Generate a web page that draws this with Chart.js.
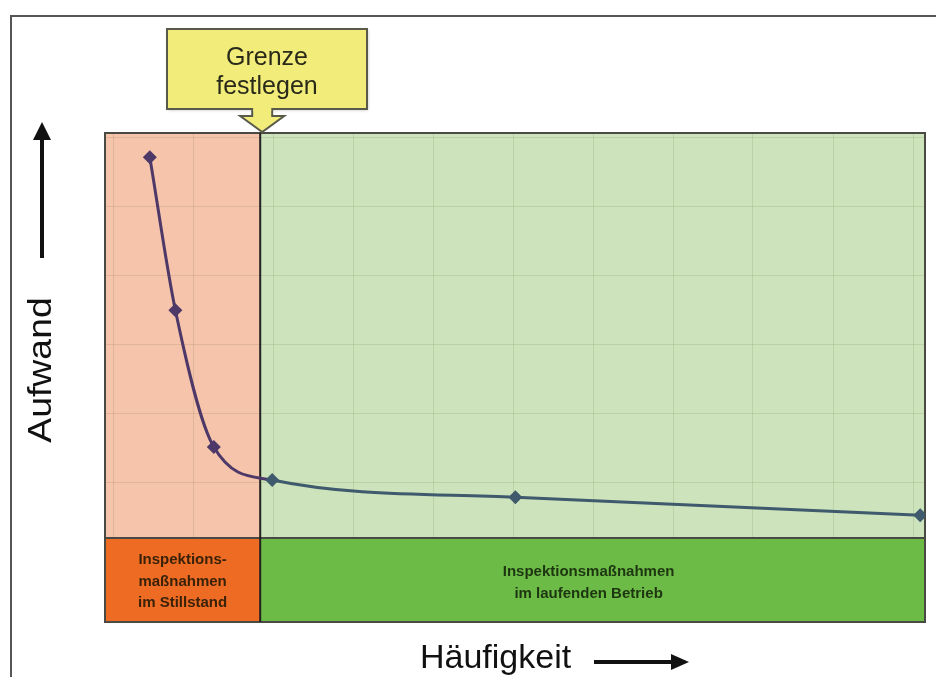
<!DOCTYPE html>
<html>
<head>
<meta charset="utf-8">
<script src="https://cdn.jsdelivr.net/npm/chart.js@4.4.0/dist/chart.umd.min.js"></script>
<style>
  html, body { margin: 0; background: #fff; }
  #wrap { width: 936px; height: 677px; position: relative; }
</style>
</head>
<body>
<div id="wrap"><canvas id="chart" width="936" height="677"></canvas></div>
<script>
// Werte (x = Häufigkeit, y = Aufwand, ohne Einheit)
const haeufigkeit = [0.56, 0.88, 1.36, 2.09, 5.13, 10.19];
const aufwand = [5.52, 3.30, 1.32, 0.84, 0.59, 0.33];
const grenze = 1.94;          // Grenze zwischen Stillstand und laufendem Betrieb
const xMax = 10.25;
const yMax = 5.87;
const xGrid = [0.1, 1.1, 2.1, 3.1, 4.1, 5.1, 6.1, 7.1, 8.1, 9.1, 10.1];
const yGrid = [0.81, 1.81, 2.81, 3.81, 4.81, 5.81];

const zoneLinks = ['Inspektions-', 'maßnahmen', 'im Stillstand'];
const zoneRechts = ['Inspektionsmaßnahmen', 'im laufenden Betrieb'];
const calloutText = ['Grenze', 'festlegen'];
const xTitle = 'Häufigkeit';
const yTitle = 'Aufwand';

const FONT = '"Liberation Sans", Arial, sans-serif';
const purple = '#4d3868';
const slate = '#3e5a6c';

function drawArrow(ctx, x1, y1, x2, y2, head, half) {
  const ang = Math.atan2(y2 - y1, x2 - x1);
  const bx = x2 - head * Math.cos(ang), by = y2 - head * Math.sin(ang);
  ctx.beginPath();
  ctx.moveTo(x1, y1);
  ctx.lineTo(bx, by);
  ctx.stroke();
  ctx.beginPath();
  ctx.moveTo(x2, y2);
  ctx.lineTo(bx + half * Math.sin(ang), by - half * Math.cos(ang));
  ctx.lineTo(bx - half * Math.sin(ang), by + half * Math.cos(ang));
  ctx.closePath();
  ctx.fill();
}

const zonesPlugin = {
  id: 'zones',
  beforeDraw(chart) {
    const { ctx, chartArea: a, scales: { x } } = chart;
    const gx = x.getPixelForValue(grenze);
    ctx.save();
    ctx.fillStyle = '#ffffff';
    ctx.fillRect(0, 0, chart.width, chart.height);
    ctx.fillStyle = '#f6c4ab';
    ctx.fillRect(a.left, a.top, gx - a.left, a.bottom - a.top);
    ctx.fillStyle = '#cce3bb';
    ctx.fillRect(gx, a.top, a.right - gx, a.bottom - a.top);
    ctx.restore();
  },
  beforeDatasetsDraw(chart) {
    const { ctx, chartArea: a, scales: { x } } = chart;
    const gx = x.getPixelForValue(grenze);
    const bandBottom = a.bottom + 84;
    ctx.save();
    // untere Leiste
    ctx.fillStyle = '#ee6b24';
    ctx.fillRect(a.left, a.bottom, gx - a.left, bandBottom - a.bottom);
    ctx.fillStyle = '#6cbb46';
    ctx.fillRect(gx, a.bottom, a.right - gx, bandBottom - a.bottom);
    // Rahmen
    ctx.strokeStyle = '#4a4a44';
    ctx.lineWidth = 2;
    ctx.strokeRect(a.left, a.top, a.right - a.left, bandBottom - a.top);
    ctx.beginPath();
    ctx.moveTo(a.left, a.bottom);
    ctx.lineTo(a.right, a.bottom);
    ctx.stroke();
    ctx.strokeStyle = '#222';
    ctx.beginPath();
    ctx.moveTo(gx, a.top);
    ctx.lineTo(gx, bandBottom);
    ctx.stroke();

    // Texte in der Leiste
    ctx.fillStyle = '#3a2208';
    ctx.textAlign = 'center';
    ctx.textBaseline = 'middle';
    ctx.font = 'bold 15px ' + FONT;
    zoneLinks.forEach((t, i) => ctx.fillText(t, (a.left + gx) / 2, a.bottom + 22 + i * 21.5));
    ctx.fillStyle = '#1d3510';
    zoneRechts.forEach((t, i) => ctx.fillText(t, gx + (a.right - gx) * 0.494, a.bottom + 34 + i * 21.5));
    ctx.restore();
  },
  afterDraw(chart) {
    const { ctx, chartArea: a, scales: { x } } = chart;
    const gx = x.getPixelForValue(grenze);
    ctx.save();

    // äußerer Rahmen
    ctx.strokeStyle = '#555';
    ctx.lineWidth = 2;
    ctx.beginPath();
    ctx.moveTo(11, chart.height);
    ctx.lineTo(11, 16);
    ctx.lineTo(chart.width, 16);
    ctx.stroke();

    // Callout "Grenze festlegen"
    const bx = 167, by = 29, bw = 200, bh = 80;
    ctx.fillStyle = '#f2ec7a';
    ctx.strokeStyle = '#5a5a4a';
    ctx.lineWidth = 2;
    ctx.shadowColor = 'rgba(0,0,0,0.25)';
    ctx.shadowBlur = 3;
    ctx.shadowOffsetX = 1;
    ctx.shadowOffsetY = 1;
    ctx.fillRect(bx, by, bw, bh);
    ctx.shadowColor = 'transparent';
    ctx.strokeRect(bx, by, bw, bh);
    const tipX = gx + 2, tipY = a.top;
    ctx.beginPath();
    ctx.moveTo(tipX - 10, by + bh);
    ctx.lineTo(tipX - 10, tipY - 17);
    ctx.lineTo(tipX - 22, tipY - 17);
    ctx.lineTo(tipX, tipY - 1);
    ctx.lineTo(tipX + 22, tipY - 17);
    ctx.lineTo(tipX + 10, tipY - 17);
    ctx.lineTo(tipX + 10, by + bh);
    ctx.fill();
    ctx.stroke();
    ctx.fillStyle = '#f2ec7a';
    ctx.fillRect(tipX - 9, by + bh - 2, 18, 4);
    ctx.fillStyle = '#2a2a1a';
    ctx.font = '25px ' + FONT;
    ctx.textAlign = 'center';
    ctx.textBaseline = 'middle';
    calloutText.forEach((t, i) => ctx.fillText(t, bx + bw / 2, by + 29 + i * 29));

    // Achsentitel und Pfeile
    ctx.fillStyle = '#111';
    ctx.strokeStyle = '#111';
    ctx.lineWidth = 4;
    ctx.font = '34px ' + FONT;
    ctx.textAlign = 'left';
    ctx.textBaseline = 'alphabetic';
    ctx.fillText(xTitle, 420, 668);
    drawArrow(ctx, 594, 662, 689, 662, 18, 8);

    ctx.save();
    ctx.translate(51, 370);
    ctx.rotate(-Math.PI / 2);
    ctx.scale(1.1, 1);
    ctx.textAlign = 'center';
    ctx.fillText(yTitle, 0, 0);
    ctx.restore();
    drawArrow(ctx, 42, 258, 42, 122, 18, 9);

    ctx.restore();
  }
};

const points = haeufigkeit.map((v, i) => ({ x: v, y: aufwand[i] }));
const gridColor = 'rgba(110, 100, 60, 0.15)';

new Chart(document.getElementById('chart'), {
  type: 'scatter',
  data: {
    datasets: [{
      data: points,
      showLine: true,
      cubicInterpolationMode: 'monotone',
      borderWidth: 3,
      borderColor: slate,
      segment: {
        borderColor: c => (c.p0.parsed.x < grenze ? purple : slate)
      },
      pointStyle: 'rectRot',
      pointRadius: 7,
      pointBorderWidth: 0,
      pointBackgroundColor: points.map(p => (p.x < grenze ? purple : slate)),
      pointBorderColor: points.map(p => (p.x < grenze ? purple : slate))
    }]
  },
  options: {
    responsive: false,
    animation: false,
    layout: { padding: { left: 105, right: 11, top: 133, bottom: 139 } },
    plugins: { legend: { display: false }, tooltip: { enabled: false } },
    scales: {
      x: {
        type: 'linear', min: 0, max: xMax,
        afterBuildTicks: axis => { axis.ticks = xGrid.map(v => ({ value: v })); },
        ticks: { display: false },
        grid: { color: gridColor, drawTicks: false },
        border: { display: false }
      },
      y: {
        type: 'linear', min: 0, max: yMax,
        afterBuildTicks: axis => { axis.ticks = yGrid.map(v => ({ value: v })); },
        ticks: { display: false },
        grid: { color: gridColor, drawTicks: false },
        border: { display: false }
      }
    }
  },
  plugins: [zonesPlugin]
});
</script>
</body>
</html>
